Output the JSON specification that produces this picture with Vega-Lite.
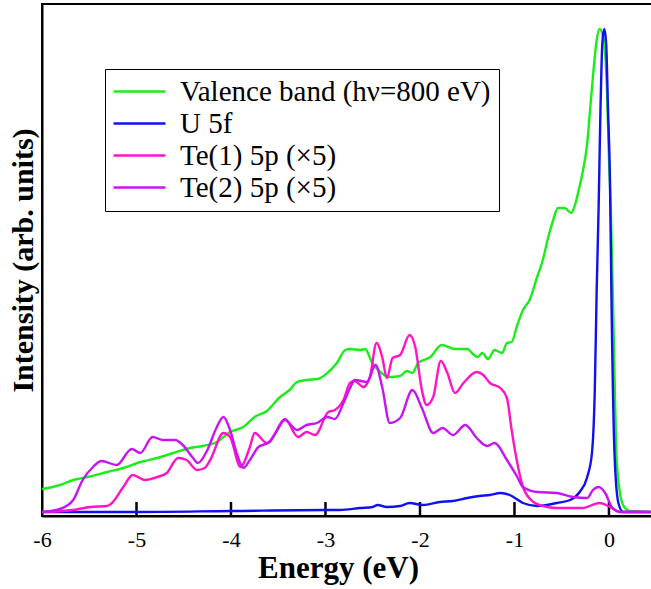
{
  "$schema": "https://vega.github.io/schema/vega-lite/v6.json",
  "width": 611,
  "height": 512,
  "autosize": "none",
  "padding": {"left": 42, "top": 4, "right": 0, "bottom": 73},
  "background": "white",
  "config": {"view": {"stroke": "black", "strokeWidth": 2}, "font": "Liberation Serif"},
  "datasets": {
    "V": [
      {"e": -6.00, "i": 27}, {"e": -5.81, "i": 31}, {"e": -5.67, "i": 36}, {"e": -5.52, "i": 39}, {"e": -5.31, "i": 44},
      {"e": -5.14, "i": 48}, {"e": -4.96, "i": 54}, {"e": -4.78, "i": 58}, {"e": -4.61, "i": 63}, {"e": -4.43, "i": 68},
      {"e": -4.30, "i": 70}, {"e": -4.15, "i": 74}, {"e": -4.01, "i": 84}, {"e": -3.87, "i": 89}, {"e": -3.75, "i": 99},
      {"e": -3.62, "i": 105}, {"e": -3.48, "i": 119}, {"e": -3.38, "i": 126}, {"e": -3.30, "i": 134}, {"e": -3.20, "i": 136},
      {"e": -3.08, "i": 137}, {"e": -2.98, "i": 143}, {"e": -2.88, "i": 153}, {"e": -2.79, "i": 166}, {"e": -2.74, "i": 167},
      {"e": -2.63, "i": 166}, {"e": -2.58, "i": 167}, {"e": -2.51, "i": 154}, {"e": -2.42, "i": 144}, {"e": -2.32, "i": 139},
      {"e": -2.21, "i": 140}, {"e": -2.14, "i": 145}, {"e": -2.08, "i": 143}, {"e": -2.02, "i": 153}, {"e": -1.89, "i": 159},
      {"e": -1.77, "i": 171}, {"e": -1.70, "i": 169}, {"e": -1.63, "i": 167}, {"e": -1.50, "i": 167}, {"e": -1.44, "i": 162},
      {"e": -1.39, "i": 159}, {"e": -1.34, "i": 163}, {"e": -1.28, "i": 157}, {"e": -1.21, "i": 166}, {"e": -1.13, "i": 163},
      {"e": -1.08, "i": 173}, {"e": -1.03, "i": 174}, {"e": -0.97, "i": 191}, {"e": -0.91, "i": 206}, {"e": -0.84, "i": 216},
      {"e": -0.76, "i": 239}, {"e": -0.70, "i": 256}, {"e": -0.65, "i": 276}, {"e": -0.59, "i": 296}, {"e": -0.54, "i": 308},
      {"e": -0.47, "i": 308}, {"e": -0.40, "i": 303}, {"e": -0.36, "i": 311}, {"e": -0.32, "i": 326}, {"e": -0.28, "i": 343},
      {"e": -0.23, "i": 373}, {"e": -0.20, "i": 406}, {"e": -0.17, "i": 439}, {"e": -0.13, "i": 476}, {"e": -0.10, "i": 487},
      {"e": -0.06, "i": 479}, {"e": -0.02, "i": 423}, {"e": 0.00, "i": 356}, {"e": 0.02, "i": 306}, {"e": 0.04, "i": 226},
      {"e": 0.06, "i": 136}, {"e": 0.08, "i": 59}, {"e": 0.12, "i": 21}, {"e": 0.14, "i": 13}, {"e": 0.18, "i": 7},
      {"e": 0.22, "i": 5}, {"e": 0.44, "i": 4}
    ],
    "U": [
      {"e": -6.00, "i": 4}, {"e": -5.00, "i": 4}, {"e": -4.00, "i": 5}, {"e": -3.00, "i": 6}, {"e": -2.85, "i": 6},
      {"e": -2.63, "i": 8}, {"e": -2.50, "i": 9}, {"e": -2.45, "i": 11}, {"e": -2.35, "i": 9}, {"e": -2.21, "i": 10},
      {"e": -2.11, "i": 13}, {"e": -1.97, "i": 11}, {"e": -1.79, "i": 14}, {"e": -1.65, "i": 15}, {"e": -1.50, "i": 18},
      {"e": -1.37, "i": 20}, {"e": -1.26, "i": 21}, {"e": -1.15, "i": 23}, {"e": -1.05, "i": 21}, {"e": -0.91, "i": 13},
      {"e": -0.76, "i": 10}, {"e": -0.55, "i": 13}, {"e": -0.41, "i": 16}, {"e": -0.31, "i": 24}, {"e": -0.23, "i": 39},
      {"e": -0.18, "i": 63}, {"e": -0.15, "i": 126}, {"e": -0.13, "i": 226}, {"e": -0.11, "i": 306}, {"e": -0.09, "i": 406},
      {"e": -0.07, "i": 473}, {"e": -0.05, "i": 487}, {"e": -0.03, "i": 473}, {"e": -0.01, "i": 406}, {"e": 0.01, "i": 339},
      {"e": 0.03, "i": 193}, {"e": 0.06, "i": 59}, {"e": 0.10, "i": 13}, {"e": 0.15, "i": 4}, {"e": 0.44, "i": 4}
    ],
    "T1": [
      {"e": -6.00, "i": 4}, {"e": -5.67, "i": 6}, {"e": -5.49, "i": 9}, {"e": -5.31, "i": 10}, {"e": -5.26, "i": 13},
      {"e": -5.14, "i": 29}, {"e": -5.04, "i": 41}, {"e": -4.91, "i": 36}, {"e": -4.78, "i": 39}, {"e": -4.68, "i": 43},
      {"e": -4.56, "i": 58}, {"e": -4.47, "i": 56}, {"e": -4.36, "i": 46}, {"e": -4.28, "i": 48}, {"e": -4.22, "i": 56},
      {"e": -4.08, "i": 83}, {"e": -4.01, "i": 79}, {"e": -3.90, "i": 49}, {"e": -3.80, "i": 69}, {"e": -3.75, "i": 83},
      {"e": -3.62, "i": 73}, {"e": -3.51, "i": 86}, {"e": -3.43, "i": 97}, {"e": -3.29, "i": 79}, {"e": -3.20, "i": 84},
      {"e": -3.11, "i": 81}, {"e": -2.97, "i": 104}, {"e": -2.90, "i": 106}, {"e": -2.81, "i": 116}, {"e": -2.74, "i": 133},
      {"e": -2.69, "i": 135}, {"e": -2.60, "i": 129}, {"e": -2.53, "i": 139}, {"e": -2.46, "i": 173}, {"e": -2.40, "i": 159},
      {"e": -2.35, "i": 138}, {"e": -2.29, "i": 158}, {"e": -2.21, "i": 161}, {"e": -2.11, "i": 181}, {"e": -2.05, "i": 169},
      {"e": -1.98, "i": 126}, {"e": -1.93, "i": 111}, {"e": -1.86, "i": 119}, {"e": -1.78, "i": 155}, {"e": -1.71, "i": 143},
      {"e": -1.63, "i": 123}, {"e": -1.54, "i": 133}, {"e": -1.40, "i": 144}, {"e": -1.33, "i": 141}, {"e": -1.26, "i": 133},
      {"e": -1.15, "i": 128}, {"e": -1.08, "i": 118}, {"e": -1.03, "i": 86}, {"e": -0.97, "i": 53}, {"e": -0.91, "i": 29},
      {"e": -0.80, "i": 14}, {"e": -0.70, "i": 10}, {"e": -0.55, "i": 8}, {"e": -0.28, "i": 8}, {"e": -0.10, "i": 13},
      {"e": 0.01, "i": 9}, {"e": 0.12, "i": 4}, {"e": 0.44, "i": 4}
    ],
    "T2": [
      {"e": -6.00, "i": 4}, {"e": -5.81, "i": 7}, {"e": -5.67, "i": 16}, {"e": -5.57, "i": 36}, {"e": -5.46, "i": 49},
      {"e": -5.37, "i": 55}, {"e": -5.21, "i": 51}, {"e": -5.05, "i": 67}, {"e": -4.96, "i": 63}, {"e": -4.83, "i": 79},
      {"e": -4.72, "i": 76}, {"e": -4.59, "i": 76}, {"e": -4.51, "i": 71}, {"e": -4.41, "i": 59}, {"e": -4.35, "i": 53},
      {"e": -4.25, "i": 66}, {"e": -4.15, "i": 89}, {"e": -4.08, "i": 99}, {"e": -4.01, "i": 86}, {"e": -3.94, "i": 63},
      {"e": -3.87, "i": 48}, {"e": -3.80, "i": 56}, {"e": -3.71, "i": 69}, {"e": -3.59, "i": 74}, {"e": -3.43, "i": 96},
      {"e": -3.30, "i": 86}, {"e": -3.20, "i": 91}, {"e": -3.09, "i": 93}, {"e": -2.98, "i": 99}, {"e": -2.90, "i": 97},
      {"e": -2.81, "i": 113}, {"e": -2.74, "i": 128}, {"e": -2.69, "i": 136}, {"e": -2.56, "i": 134}, {"e": -2.47, "i": 151},
      {"e": -2.40, "i": 129}, {"e": -2.32, "i": 93}, {"e": -2.21, "i": 98}, {"e": -2.08, "i": 126}, {"e": -1.98, "i": 108},
      {"e": -1.86, "i": 83}, {"e": -1.76, "i": 88}, {"e": -1.65, "i": 81}, {"e": -1.52, "i": 91}, {"e": -1.40, "i": 78},
      {"e": -1.29, "i": 70}, {"e": -1.21, "i": 73}, {"e": -1.08, "i": 56}, {"e": -0.97, "i": 39}, {"e": -0.91, "i": 29},
      {"e": -0.76, "i": 24}, {"e": -0.55, "i": 23}, {"e": -0.38, "i": 19}, {"e": -0.23, "i": 18}, {"e": -0.17, "i": 26},
      {"e": -0.11, "i": 29}, {"e": -0.04, "i": 23}, {"e": 0.03, "i": 9}, {"e": 0.12, "i": 4}, {"e": 0.44, "i": 4}
    ]
  },
  "encoding": {
    "x": {
      "field": "e", "type": "quantitative",
      "scale": {"domain": [-6, 0.466], "nice": false, "zero": false},
      "axis": {
        "values": [-6, -5, -4, -3, -2, -1, 0], "labelExpr": "datum.value + ''", "labelFlush": false,
        "title": "Energy (eV)", "grid": false,
        "ticks": false,
        "domainColor": "black", "domainWidth": 2,
        "labelFont": "Times New Roman, Liberation Serif, serif", "labelFontSize": 22, "labelColor": "black", "labelPadding": 13,
        "titleFont": "Times New Roman, Liberation Serif, serif", "titleFontSize": 31, "titleFontWeight": "bold", "titleColor": "black", "titlePadding": 3,
        "titleX": 296
      }
    },
    "y": {
      "field": "i", "type": "quantitative",
      "scale": {"domain": [0, 512], "nice": false},
      "axis": {
        "ticks": false, "labels": false, "grid": false,
        "domainColor": "black", "domainWidth": 2,
        "title": "Intensity (arb. units)",
        "titleFont": "Times New Roman, Liberation Serif, serif", "titleFontSize": 30, "titleFontWeight": "bold", "titleColor": "black", "titlePadding": 4
      }
    }
  },
  "layer": [
    {
      "data": {"values": [{"e": -5, "lo": 0, "hi": 14}, {"e": -4, "lo": 0, "hi": 14}, {"e": -3, "lo": 0, "hi": 14}, {"e": -2, "lo": 0, "hi": 14}, {"e": -1, "lo": 0, "hi": 14}, {"e": 0, "lo": 0, "hi": 14}]},
      "mark": {"type": "rule", "color": "#000000", "strokeWidth": 2.5},
      "encoding": {"y": {"field": "lo", "type": "quantitative"}, "y2": {"field": "hi"}}
    },
    {
      "data": {"name": "V"},
      "mark": {"type": "line", "interpolate": "monotone", "strokeWidth": 2.4, "clip": true},
      "encoding": {"color": {"datum": "Valence band (hν=800 eV)", "type": "nominal",
        "scale": {"domain": ["Valence band (hν=800 eV)", "U 5f", "Te(1) 5p (×5)", "Te(2) 5p (×5)"], "range": ["#1aee1a", "#1010f0", "#ff14c8", "#c814f5"]},
        "legend": {
          "orient": "none", "legendX": 63, "legendY": 65, "title": null,
          "strokeColor": "black", "fillColor": "white", "padding": 8,
          "symbolType": "M-2.6,0H2.6", "symbolSize": 400, "symbolStrokeWidth": 2.4, "symbolOffset": 12,
          "labelFont": "Times New Roman, Liberation Serif, serif", "labelFontSize": 29, "labelColor": "black", "labelOffset": 26, "labelLimit": 0,
          "rowPadding": 2
        }}}
    },
    {
      "data": {"name": "U"},
      "mark": {"type": "line", "interpolate": "monotone", "strokeWidth": 2.4, "clip": true},
      "encoding": {"color": {"datum": "U 5f", "type": "nominal"}}
    },
    {
      "data": {"name": "T1"},
      "mark": {"type": "line", "interpolate": "monotone", "strokeWidth": 2.4, "clip": true},
      "encoding": {"color": {"datum": "Te(1) 5p (×5)", "type": "nominal"}}
    },
    {
      "data": {"name": "T2"},
      "mark": {"type": "line", "interpolate": "monotone", "strokeWidth": 2.4, "clip": true},
      "encoding": {"color": {"datum": "Te(2) 5p (×5)", "type": "nominal"}}
    }
  ]
}
